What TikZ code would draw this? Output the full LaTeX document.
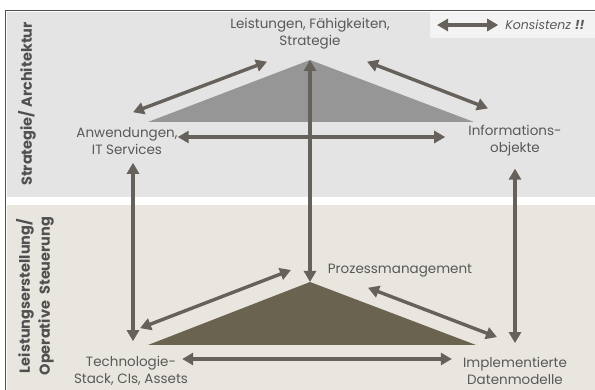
\documentclass[tikz,border=0pt]{standalone}
\usepackage{fontspec}
\setmainfont{Poppins}
\usepackage{tikz}
\usetikzlibrary{arrows.meta,positioning,calc}
\definecolor{obenGrau}{HTML}{E4E4E4}
\definecolor{untenBeige}{HTML}{E9E6DF}
\definecolor{legGrau}{HTML}{F3F3F3}
\definecolor{dreieckHell}{HTML}{969696}
\definecolor{dreieckDunkel}{HTML}{6A6350}
\definecolor{pfeilGrau}{HTML}{66625B}
\definecolor{textGrau}{HTML}{595959}
\definecolor{rahmenGrau}{HTML}{505050}
\tikzset{
  kons/.style={{Triangle[length=11pt,width=12pt]}-{Triangle[length=11pt,width=12pt]}, line width=3.4pt, draw=pfeilGrau},
  lbl/.style={font=\fontsize{13.5}{17}\selectfont, text=textGrau, align=center, inner sep=0pt},
  seite/.style={font=\bfseries\fontsize{14.5}{20}\selectfont, text=rahmenGrau, align=center, inner sep=0pt, rotate=90}
}

\begin{document}
\begin{tikzpicture}[x=1pt,y=-1pt]
    \useasboundingbox (0,0) rectangle (595,390);
    % Hintergrund
    \fill[obenGrau] (7,12) rectangle (595,197);
    \fill[untenBeige] (7,205) rectangle (595,390);
    \fill[legGrau] (430,12) rectangle (595,38);
    \draw[rahmenGrau, line width=0.9pt] (5,390) -- (5,10) -- (595,10);

    % Dreiecke
    \coordinate (tT) at (310,60);
    \coordinate (tL) at (148,122);
    \coordinate (tR) at (474,122);
    \coordinate (bT) at (310,282);
    \coordinate (bL) at (148,345);
    \coordinate (bR) at (476,345);
    \fill[dreieckHell] (tL) -- (tT) -- (tR) -- cycle;
    \fill[dreieckDunkel] (bL) -- (bT) -- (bR) -- cycle;

    \node[seite] (sA) at (27,104) {Strategie/ Architektur};
    \node[seite] (sB) at (35,296) {Leistungserstellung/\\Operative\ \ Steuerung};

    \node[lbl] (lfs) at (310,34) {Leistungen, Fähigkeiten,\\Strategie};
    \node[lbl] (anw) at (127,141) {Anwendungen,\\IT Services};
    \node[lbl] (info) at (515,141) {Informations-\\objekte};
    \node[lbl] (proz) at (400,271) {Prozessmanagement};
    \node[lbl] (tech) at (131,371) {Technologie-\\Stack, CIs, Assets};
    \node[lbl] (impl) at (515,371) {Implementierte\\Datenmodelle};
    \node[lbl, font=\itshape\fontsize{12.5}{14}\selectfont] (legende) at (545,25) {Konsistenz \textbf{!!}};
    \coordinate (legA) at (437,25);

    \draw[kons] (legA) -- ([xshift=-7pt]legende.west);
    \draw[kons] (tT) -- (bT);
    \draw[kons] ([xshift=6pt,yshift=15pt]anw.north) -- ([xshift=-43pt,yshift=-12pt]lfs.south);
    \draw[kons] ([xshift=57pt,yshift=-12pt]lfs.south) -- ([xshift=-27pt,yshift=17pt]info.north);
    \draw[kons] ([yshift=4pt]anw.east) -- ([xshift=-23pt,yshift=4pt]info.west);
    \draw[kons] ([xshift=6pt,yshift=-8pt]anw.south) -- ([xshift=2pt,yshift=15pt]tech.north);
    \draw[kons] ([yshift=-12pt]info.south) -- ([yshift=14pt]impl.north);
    \draw[kons] ([xshift=9pt,yshift=28pt]tech.north) -- ([xshift=-19pt,yshift=12pt]bT);
    \draw[kons] ([xshift=-32pt,yshift=-10pt]proz.south) -- ([xshift=-18pt,yshift=20pt]impl.north);
    \draw[kons] ([xshift=-6pt,yshift=12pt]tech.east) -- ([xshift=-11pt,yshift=12pt]impl.west);
\end{tikzpicture}
\end{document}
